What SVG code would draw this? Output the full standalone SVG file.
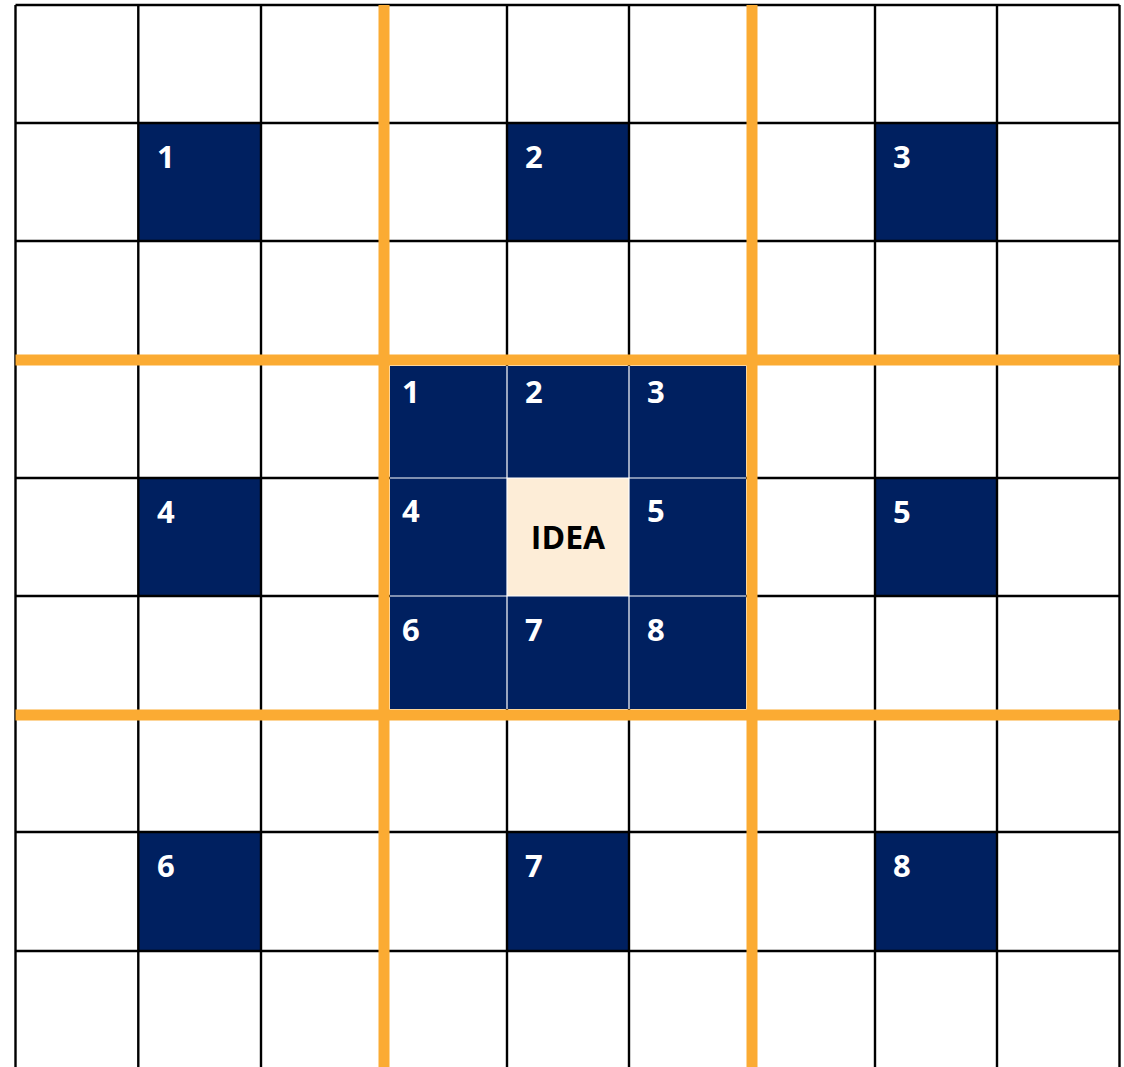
<svg xmlns="http://www.w3.org/2000/svg" width="1124" height="1067" viewBox="0 0 1124 1067">
<style>
.g{stroke:#000;stroke-width:2.4;fill:none}
.o{stroke:#FBAB33;stroke-width:11;fill:none}
.n{fill:#002060}
.w{stroke:#fff;stroke-width:1.2}
.t{font-family:"Open Sans","Liberation Sans",sans-serif;font-weight:bold;font-size:31px;fill:#fff}
.i{font-family:"Open Sans","Liberation Sans",sans-serif;font-weight:bold;font-size:32px;fill:#000;text-anchor:middle}
</style>
<rect width="1124" height="1067" fill="#fff"/>
<g id="outer-cells">
<g id="cell-o1"><rect class="n" x="138" y="123" width="123" height="118"/><text class="t" x="157" y="168">1</text></g>
<g id="cell-o2"><rect class="n" x="507" y="123" width="122" height="118"/><text class="t" x="525" y="168">2</text></g>
<g id="cell-o3"><rect class="n" x="875" y="123" width="122" height="118"/><text class="t" x="893" y="168">3</text></g>
<g id="cell-o4"><rect class="n" x="138" y="478" width="123" height="118"/><text class="t" x="157" y="523">4</text></g>
<g id="cell-o5"><rect class="n" x="875" y="478" width="122" height="118"/><text class="t" x="893" y="523">5</text></g>
<g id="cell-o6"><rect class="n" x="138" y="832" width="123" height="119"/><text class="t" x="157" y="877">6</text></g>
<g id="cell-o7"><rect class="n" x="507" y="832" width="122" height="119"/><text class="t" x="525" y="877">7</text></g>
<g id="cell-o8"><rect class="n" x="875" y="832" width="122" height="119"/><text class="t" x="893" y="877">8</text></g>
</g>
<g id="grid" class="g">
<path d="M15.5 5V1067M138.3 5V1067M261 5V1067M384 5V1067M507 5V1067M629 5V1067M752 5V1067M875 5V1067M997 5V1067M1119.5 5V1067"/>
<path d="M15.5 5H1119.5M15.5 123H1119.5M15.5 241H1119.5M15.5 359H1119.5M15.5 478H1119.5M15.5 596H1119.5M15.5 714H1119.5M15.5 832H1119.5M15.5 951H1119.5"/>
</g>
<g id="orange" class="o">
<path d="M384 5V1067M752 5V1067M15.5 360H1119.5M15.5 715H1119.5"/>
</g>
<g id="center">
<g id="cell-c1"><rect class="n" x="390" y="366" width="117" height="112"/><text class="t" x="402" y="403">1</text></g>
<g id="cell-c2"><rect class="n" x="507" y="366" width="122" height="112"/><text class="t" x="525" y="403">2</text></g>
<g id="cell-c3"><rect class="n" x="629" y="366" width="117" height="112"/><text class="t" x="647" y="403">3</text></g>
<g id="cell-c4"><rect class="n" x="390" y="478" width="117" height="118"/><text class="t" x="402" y="522">4</text></g>
<g id="cell-idea"><rect x="507" y="478" width="122" height="118" fill="#FDEDD7"/><text class="i" x="568" y="549">IDEA</text></g>
<g id="cell-c5"><rect class="n" x="629" y="478" width="117" height="118"/><text class="t" x="647" y="522">5</text></g>
<g id="cell-c6"><rect class="n" x="390" y="596" width="117" height="113"/><text class="t" x="402" y="641">6</text></g>
<g id="cell-c7"><rect class="n" x="507" y="596" width="122" height="113"/><text class="t" x="525" y="641">7</text></g>
<g id="cell-c8"><rect class="n" x="629" y="596" width="117" height="113"/><text class="t" x="647" y="641">8</text></g>
<path class="w" d="M507 366V709M629 366V709M390 478H746M390 596H746"/>
</g>
</svg>
